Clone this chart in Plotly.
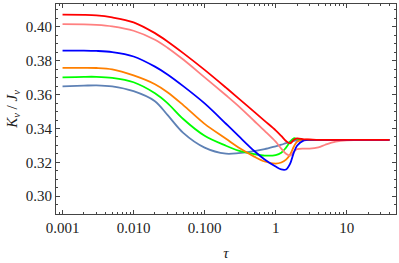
import plotly.graph_objects as go

tau = [0.001, 0.002, 0.003, 0.005, 0.01, 0.02, 0.03, 0.05, 0.1, 0.2, 0.3, 0.5, 0.7,
       1.0, 1.2, 1.4, 1.6, 1.8, 2.0, 2.5, 3.0, 4.0, 5.0, 7.0, 10.0, 20.0, 40.0]

red = [0.4072, 0.4071, 0.4068, 0.4056, 0.4027, 0.3963, 0.3914, 0.3845, 0.3746, 0.3641, 0.3578,
       0.3498, 0.3445, 0.3389, 0.3356, 0.3326, 0.3312, 0.3333, 0.3342, 0.3336, 0.3335, 0.3333,
       0.3333, 0.3333, 0.3333, 0.3333, 0.3333]
pink = [0.4016, 0.4015, 0.4012, 0.4003, 0.3977, 0.3924, 0.3877, 0.3807, 0.3702, 0.3596, 0.3532,
        0.3444, 0.3386, 0.3322, 0.3281, 0.3251, 0.3240, 0.3263, 0.3278, 0.3281, 0.3281, 0.3289,
        0.3304, 0.3322, 0.3330, 0.3333, 0.3333]
blue = [0.3860, 0.3860, 0.3858, 0.3851, 0.3825, 0.3765, 0.3719, 0.3650, 0.3548, 0.3428, 0.3356,
        0.3267, 0.3217, 0.3175, 0.3158, 0.3158, 0.3193, 0.3257, 0.3298, 0.3330, 0.3333, 0.3333,
        0.3333, 0.3333, 0.3333, 0.3333, 0.3333]
orange = [0.3758, 0.3758, 0.3757, 0.3749, 0.3713, 0.3661, 0.3614, 0.3538, 0.3427, 0.3339, 0.3287,
          0.3234, 0.3205, 0.3193, 0.3199, 0.3216, 0.3246, 0.3292, 0.3322, 0.3333, 0.3333, 0.3333,
          0.3333, 0.3333, 0.3333, 0.3333, 0.3333]
green = [0.3702, 0.3705, 0.3705, 0.3699, 0.3673, 0.3608, 0.3550, 0.3456, 0.3357, 0.3298, 0.3269,
         0.3249, 0.3240, 0.3243, 0.3257, 0.3287, 0.3322, 0.3342, 0.3339, 0.3333, 0.3333, 0.3333,
         0.3333, 0.3333, 0.3333, 0.3333, 0.3333]
steel = [0.3649, 0.3653, 0.3655, 0.3649, 0.3620, 0.3561, 0.3480, 0.3374, 0.3287, 0.3251, 0.3254,
         0.3266, 0.3278, 0.3295, 0.3304, 0.3313, 0.3319, 0.3327, 0.3330, 0.3333, 0.3333, 0.3333,
         0.3333, 0.3333, 0.3333, 0.3333, 0.3333]

x_tickvals = [0.001, 0.01, 0.1, 1, 10]
x_ticktext = ["0.001", "0.010", "0.100", "1", "10"]
x_minor = [0.0008, 0.0009] + [m * d for d in [0.001, 0.01, 0.1, 1, 10] for m in range(2, 10)]
y_tickvals = [0.30, 0.32, 0.34, 0.36, 0.38, 0.40]
y_ticktext = ["0.30", "0.32", "0.34", "0.36", "0.38", "0.40"]

series = [
    (steel, "#5E81B5"),
    (green, "#00FF00"),
    (orange, "#FF8000"),
    (pink, "#FF8080"),
    (blue, "#0000FF"),
    (red, "#FF0000"),
]

fig = go.Figure()
for ys, col in series:
    fig.add_trace(go.Scatter(x=tau, y=ys, mode="lines",
                             line=dict(color=col, width=1.8, shape="spline", smoothing=0.9),
                             showlegend=False, hoverinfo="skip"))

SERIF = "Liberation Serif, Times New Roman, serif"
font = dict(family=SERIF, size=15, color="#222")
fig.update_layout(
    width=399, height=263,
    margin=dict(l=56, r=3, t=4, b=49),
    paper_bgcolor="white", plot_bgcolor="white",
    font=font,
    xaxis=dict(type="log", range=[-3.092, 1.694], tickvals=x_tickvals, ticktext=x_ticktext,
               tickfont=font, automargin=False,
               ticks="inside", ticklen=4, tickwidth=1, tickcolor="#444",
               minor=dict(tickvals=x_minor, ticks="inside", ticklen=2, tickcolor="#444"),
               showline=True, linecolor="#444", linewidth=1, mirror="allticks",
               showgrid=False, zeroline=False,
               title=dict(text="<i>τ</i>", font=font, standoff=12)),
    yaxis=dict(range=[0.2895, 0.4135], tickvals=y_tickvals, ticktext=y_ticktext,
               tickfont=font, automargin=False,
               ticks="inside", ticklen=4, tickwidth=1, tickcolor="#444",
               minor=dict(dtick=0.005, tick0=0.30, ticks="inside", ticklen=2, tickcolor="#444"),
               showline=True, linecolor="#444", linewidth=1, mirror="allticks",
               showgrid=False, zeroline=False,
               title=dict(text="<i>K<sub>ν</sub></i> / <i>J<sub>ν</sub></i>", font=font, standoff=4)),
)
fig.write_html("out.html", config={"displayModeBar": False},
               post_script="document.body.style.margin='0';document.body.style.overflow='hidden';")
